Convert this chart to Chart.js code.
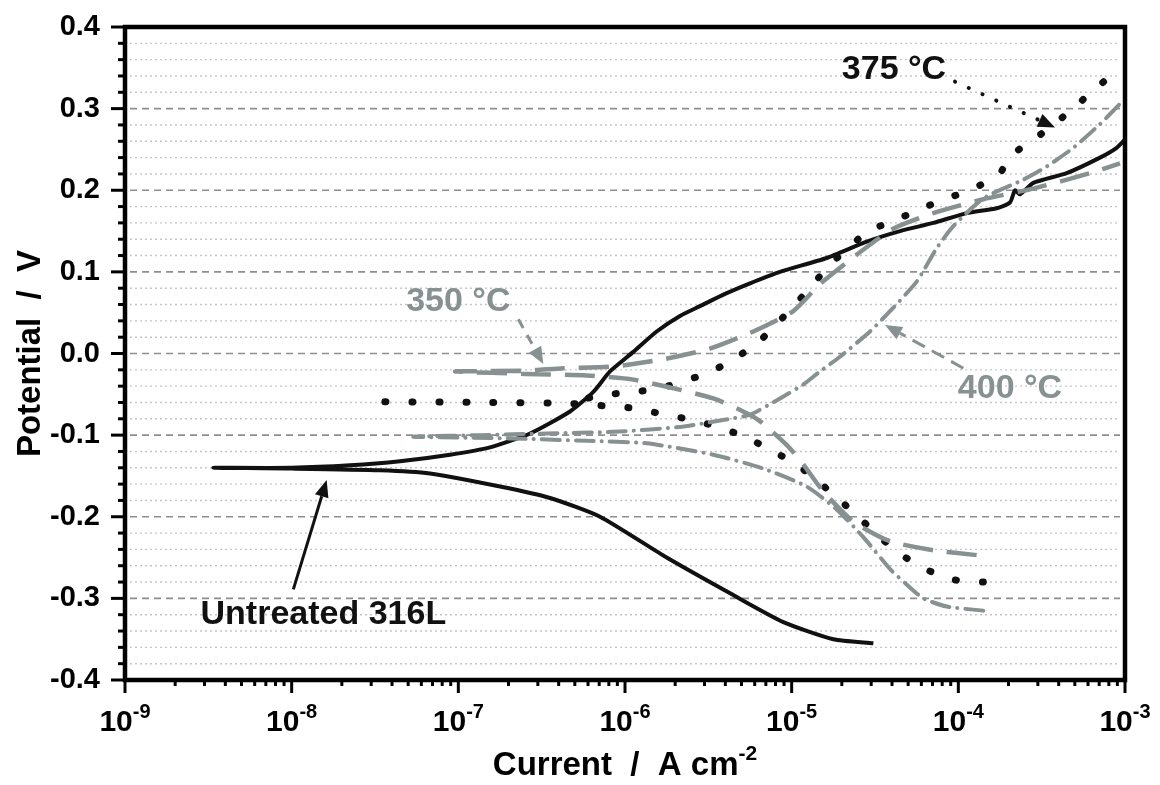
<!DOCTYPE html>
<html>
<head>
<meta charset="utf-8">
<script src="https://cdn.jsdelivr.net/npm/chart.js@4.4.0/dist/chart.umd.min.js"></script>
<style>
  html, body { margin: 0; padding: 0; background: #fff; }
</style>
</head>
<body>
<canvas id="chart" width="1160" height="785"></canvas>
<script>
// log10 of current density (A cm-2) and potential (V), cathodic end -> Ecorr -> anodic end
const untreatedLogI = [-4.51, -4.75, -5.05, -5.35, -5.75, -6.15, -6.45, -6.75, -7.17, -7.47, -8.0, -8.47,
  -8.0, -7.65, -7.35, -7.05, -6.81, -6.57, -6.33, -6.19, -6.09, -5.95, -5.81, -5.67, -5.55, -5.4, -5.25,
  -5.07, -4.79, -4.55, -4.35, -4.15, -3.95, -3.77, -3.69, -3.66, -3.63, -3.55, -3.35, -3.15, -3.05, -3.0];
const untreatedE = [-0.355, -0.35, -0.329, -0.296, -0.25, -0.2, -0.177, -0.163, -0.147, -0.143, -0.141, -0.14,
  -0.14, -0.137, -0.132, -0.124, -0.115, -0.098, -0.071, -0.047, -0.022, 0.002, 0.027, 0.046, 0.058, 0.073, 0.086,
  0.1, 0.117, 0.137, 0.15, 0.16, 0.172, 0.178, 0.185, 0.2, 0.195, 0.209, 0.221, 0.24, 0.252, 0.262];

const t350LogI = [-3.89, -4.15, -4.41, -4.63, -4.81, -4.93, -5.03, -5.21, -5.47, -5.95, -6.23, -6.6, -7.02,
  -6.6, -6.37, -6.07, -5.77, -5.49, -5.23, -4.99, -4.83, -4.61, -4.39, -4.15, -3.85, -3.55, -3.21, -3.03];
const t350E = [-0.247, -0.241, -0.23, -0.206, -0.169, -0.136, -0.112, -0.08, -0.055, -0.032, -0.027, -0.025, -0.022,
  -0.021, -0.018, -0.016, -0.007, 0.006, 0.027, 0.052, 0.085, 0.121, 0.153, 0.172, 0.189, 0.202, 0.221, 0.233];

// 375 °C: cathodic branch down to the Ecorr tip, anodic branch from where the two split
const t375CathLogI = [-3.85, -4.03, -4.2, -4.33, -4.46, -4.58, -4.72, -4.84, -4.97, -5.12, -5.27, -5.44, -5.61, -5.78,
  -5.95, -6.13, -6.35, -6.8, -7.54];
const t375CathE = [-0.28, -0.277, -0.264, -0.248, -0.227, -0.204, -0.178, -0.157, -0.136, -0.119, -0.103, -0.09, -0.081,
  -0.074, -0.067, -0.064, -0.061, -0.06, -0.059];
const t375AnodLogI = [-6.3, -6.13, -5.95, -5.79, -5.66, -5.51, -5.35, -5.21, -5.09, -4.99, -4.89, -4.78, -4.54, -4.39,
  -4.23, -4.08, -3.91, -3.75, -3.69, -3.56, -3.31, -3.19, -3.07];
const t375AnodE = [-0.058, -0.051, -0.047, -0.043, -0.034, -0.025, -0.007, 0.012, 0.036, 0.058, 0.08, 0.107, 0.15, 0.162,
  0.177, 0.189, 0.202, 0.221, 0.242, 0.26, 0.3, 0.323, 0.342];

const t400LogI = [-3.85, -4.07, -4.21, -4.31, -4.41, -4.57, -4.73, -4.91, -5.17, -5.47, -5.87, -6.23, -6.7, -7.27,
  -6.87, -6.47, -6.07, -5.67, -5.37, -5.25, -5.07, -4.93, -4.83, -4.71, -4.53, -4.4, -4.25, -4.13, -4.03, -3.85,
  -3.61, -3.47, -3.31, -3.15, -3.03];
const t400E = [-0.315, -0.31, -0.3, -0.283, -0.264, -0.225, -0.191, -0.163, -0.141, -0.124, -0.11, -0.107, -0.104, -0.102,
  -0.1, -0.098, -0.096, -0.09, -0.08, -0.075, -0.055, -0.038, -0.022, -0.004, 0.027, 0.054, 0.088, 0.129, 0.156, 0.19,
  0.213, 0.229, 0.252, 0.281, 0.306];

const xTickExps = [-9, -8, -7, -6, -5, -4, -3];
const yTickValues = [-0.4, -0.3, -0.2, -0.1, 0, 0.1, 0.2, 0.3, 0.4];

const GRAY = "#879191";
const FONT = "'Liberation Sans', Arial, sans-serif";

// text labels and arrows, placed in data units (log10 I, V)
const notes = [
  { text: "375 °C", color: "#111", at: [-4.386, 0.336], from: [-4.02, 0.333], to: [-3.42, 0.277], dash: [0.1, 15], cap: "round", lw: 4 },
  { text: "350 °C", color: GRAY, at: [-7.0, 0.052], from: [-6.64, 0.042], to: [-6.49, -0.013], dash: [10, 8], cap: "butt", lw: 3 },
  { text: "400 °C", color: GRAY, at: [-3.69, -0.055], from: [-3.97, -0.018], to: [-4.44, 0.035], dash: [14, 8], cap: "butt", lw: 3 },
  { text: "Untreated 316L", color: "#111", at: [-7.81, -0.331], from: [-7.99, -0.289], to: [-7.79, -0.155], dash: [], cap: "butt", lw: 3 },
];

function toPoints(logI, e) {
  return logI.map((l, i) => ({ x: Math.pow(10, l), y: e[i] }));
}

function drawArrow(ctx, x0, y0, x1, y1, n) {
  const ang = Math.atan2(y1 - y0, x1 - x0);
  const head = 17, half = 7;
  const bx = x1 - head * Math.cos(ang), by = y1 - head * Math.sin(ang);
  ctx.strokeStyle = n.color;
  ctx.fillStyle = n.color;
  ctx.lineWidth = n.lw;
  ctx.lineCap = n.cap;
  ctx.setLineDash(n.dash);
  ctx.beginPath();
  ctx.moveTo(x0, y0);
  ctx.lineTo(bx, by);
  ctx.stroke();
  ctx.setLineDash([]);
  ctx.beginPath();
  ctx.moveTo(x1, y1);
  ctx.lineTo(bx + half * Math.sin(ang), by - half * Math.cos(ang));
  ctx.lineTo(bx - half * Math.sin(ang), by + half * Math.cos(ang));
  ctx.closePath();
  ctx.fill();
}

const frame = {
  id: "frame",
  beforeDatasetsDraw(chart) {
    const { ctx, chartArea: a, scales: { y } } = chart;
    ctx.save();
    for (let i = -19; i <= 19; i++) {
      const py = y.getPixelForValue(i * 0.02);
      const major = i % 5 === 0;
      ctx.beginPath();
      ctx.setLineDash(major ? [7, 5] : [2, 3]);
      ctx.strokeStyle = major ? "#8e8e8e" : "#c6c6c6";
      ctx.lineWidth = major ? 1.6 : 1.4;
      ctx.moveTo(a.left + 5, py);
      ctx.lineTo(a.right - 5, py);
      ctx.stroke();
    }
    ctx.restore();
  },
  afterDatasetsDraw(chart) {
    const { ctx, chartArea: a, scales: { x, y } } = chart;
    ctx.save();

    // frame
    ctx.setLineDash([]);
    ctx.strokeStyle = "#000";
    ctx.lineWidth = 4.5;
    ctx.strokeRect(a.left, a.top, a.right - a.left, a.bottom - a.top);

    // y ticks
    ctx.lineWidth = 3;
    ctx.lineCap = "butt";
    for (let i = -20; i <= 20; i++) {
      const py = y.getPixelForValue(i * 0.02);
      const len = i % 5 === 0 ? 14 : 7;
      ctx.beginPath();
      ctx.moveTo(a.left - len, py);
      ctx.lineTo(a.left, py);
      ctx.stroke();
    }

    // x ticks (decades + 2..9)
    for (let e = -9; e <= -3; e++) {
      for (let m = 1; m <= 9; m++) {
        const v = m * Math.pow(10, e);
        if (v > 1.0001e-3) break;
        const px = x.getPixelForValue(v);
        const len = m === 1 ? 13 : 6;
        ctx.beginPath();
        ctx.moveTo(px, a.bottom);
        ctx.lineTo(px, a.bottom + len);
        ctx.stroke();
      }
    }

    // x tick labels with superscript exponent
    ctx.fillStyle = "#000";
    ctx.textAlign = "left";
    ctx.textBaseline = "alphabetic";
    const big = "bold 30px " + FONT, small = "bold 20px " + FONT;
    xTickExps.forEach((e) => {
      const px = x.getPixelForValue(Math.pow(10, e));
      const sup = String(e);
      ctx.font = big;
      const w1 = ctx.measureText("10").width;
      ctx.font = small;
      const w2 = ctx.measureText(sup).width;
      const left = px - (w1 + w2) / 2;
      ctx.font = big;
      ctx.fillText("10", left, a.bottom + 51);
      ctx.font = small;
      ctx.fillText(sup, left + w1, a.bottom + 38);
    });

    // axis titles
    const tfont = "bold 33px " + FONT, tsup = "bold 21px " + FONT;
    ctx.font = tfont;
    const xt = "Current  /  A cm";
    const wx = ctx.measureText(xt).width;
    ctx.font = tsup;
    const ws = ctx.measureText("-2").width;
    const cx = (a.left + a.right) / 2 - (wx + ws) / 2;
    ctx.font = tfont;
    ctx.fillText(xt, cx, a.bottom + 95);
    ctx.font = tsup;
    ctx.fillText("-2", cx + wx, a.bottom + 80);

    ctx.save();
    ctx.translate(40, (a.top + a.bottom) / 2);
    ctx.rotate(-Math.PI / 2);
    ctx.font = tfont;
    ctx.textAlign = "center";
    ctx.fillText("Potential  /  V", 0, 0);
    ctx.restore();

    // annotations
    notes.forEach((n) => {
      const px = x.getPixelForValue(Math.pow(10, n.at[0]));
      const py = y.getPixelForValue(n.at[1]);
      ctx.font = "bold 34px " + FONT;
      ctx.fillStyle = n.color;
      ctx.textAlign = "center";
      ctx.fillText(n.text, px, py);
      drawArrow(ctx,
        x.getPixelForValue(Math.pow(10, n.from[0])), y.getPixelForValue(n.from[1]),
        x.getPixelForValue(Math.pow(10, n.to[0])), y.getPixelForValue(n.to[1]), n);
    });

    ctx.restore();
  },
};

const dotted375 = { borderColor: "#111", borderWidth: 7, borderDash: [1, 26], borderCapStyle: "round" };

new Chart(document.getElementById("chart"), {
  type: "line",
  data: {
    datasets: [
      { label: "400 °C", data: toPoints(t400LogI, t400E), borderColor: GRAY, borderWidth: 4,
        borderDash: [18, 8, 0.1, 8], borderCapStyle: "round" },
      { label: "350 °C", data: toPoints(t350LogI, t350E), borderColor: GRAY, borderWidth: 4.5,
        borderDash: [30, 14], borderCapStyle: "butt" },
      { label: "375 °C", data: toPoints(t375CathLogI, t375CathE), ...dotted375 },
      { label: "375 °C anodic", data: toPoints(t375AnodLogI, t375AnodE), ...dotted375, borderDashOffset: 13 },
      { label: "Untreated 316L", data: toPoints(untreatedLogI, untreatedE), borderColor: "#111", borderWidth: 4 },
    ],
  },
  options: {
    responsive: false,
    animation: false,
    devicePixelRatio: 1,
    layout: { padding: { left: 0, right: 35, top: 27, bottom: 0 } },
    elements: { point: { radius: 0 }, line: { tension: 0.2, fill: false } },
    plugins: { legend: { display: false }, tooltip: { enabled: false } },
    scales: {
      x: {
        type: "logarithmic",
        min: 1e-9,
        max: 1e-3,
        grid: { display: false, drawTicks: false },
        border: { display: false },
        ticks: { display: false },
        afterFit(scale) { scale.height = 105; scale.paddingLeft = 0; scale.paddingRight = 0; },
      },
      y: {
        min: -0.4,
        max: 0.4,
        grid: { display: false, drawTicks: false },
        border: { display: false },
        afterBuildTicks(scale) { scale.ticks = yTickValues.map((v) => ({ value: v })); },
        ticks: {
          color: "#000",
          padding: 25,
          font: { family: FONT, size: 29, weight: "bold" },
          callback: (v) => Number(v).toFixed(1),
        },
        afterFit(scale) { scale.width = 125; scale.paddingTop = 0; scale.paddingBottom = 0; },
      },
    },
  },
  plugins: [frame],
});
</script>
</body>
</html>
